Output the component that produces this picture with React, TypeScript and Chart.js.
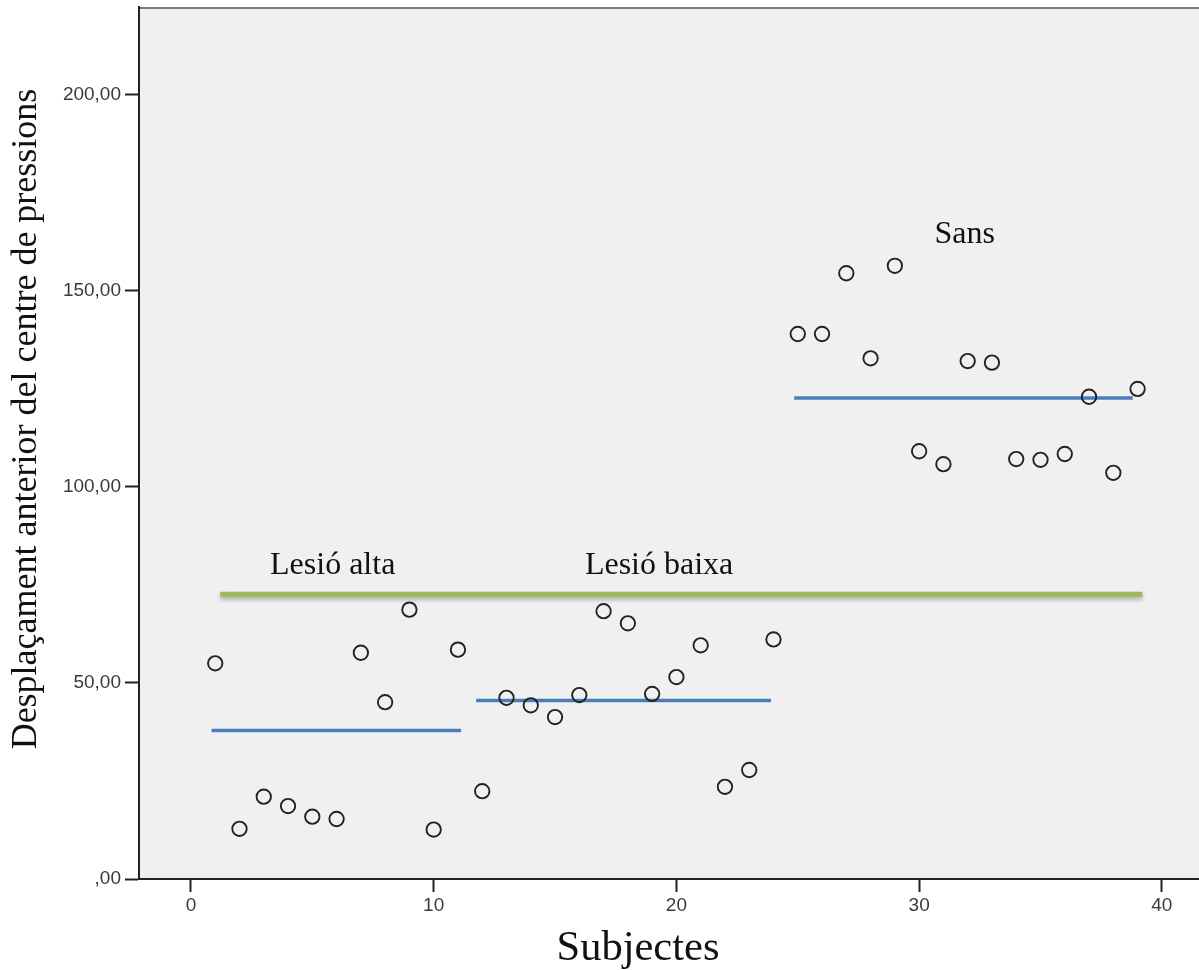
import React, { useEffect, useRef } from "react";
import { Chart, registerables } from "chart.js";

Chart.register(...registerables);

// ---- Data ----
const subjects = [
  1, 2, 3, 4, 5, 6, 7, 8, 9, 10, 11, 12, 13, 14, 15, 16, 17, 18, 19, 20,
  21, 22, 23, 24, 25, 26, 27, 28, 29, 30, 31, 32, 33, 34, 35, 36, 37, 38, 39,
];
const displacement = [
  55.0, 12.8, 21.0, 18.6, 15.9, 15.3, 57.7, 45.1, 68.7, 12.6, 58.5,
  22.4, 46.2, 44.3, 41.3, 46.9, 68.3, 65.2, 47.2, 51.5, 59.6, 23.5, 27.8, 61.1,
  139.0, 139.0, 154.5, 132.8, 156.4, 109.1, 105.8, 132.1, 131.7, 107.1, 106.9, 108.4, 123.0, 103.6, 125.0,
];

// group mean lines (start subject, end subject, mean value)
const groupLineStart = [0.85, 11.75, 24.85];
const groupLineEnd = [11.13, 23.9, 38.8];
const groupMeans = [37.9, 45.5, 122.7];

// overall mean line
const overallLineStart = [1.2];
const overallLineEnd = [39.2];
const overallMean = [72.6];

// group labels (left x in subject units, baseline in value units)
const labelTexts = ["Lesió alta", "Lesió baixa", "Sans"];
const labelX = [3.26, 16.23, 30.63];
const labelY = [77.7, 77.7, 162.1];

const xTitle = "Subjectes";
const yTitle = "Desplaçament anterior del centre de pressions";

const formatY = (v: number) => (v === 0 ? ",00" : v.toFixed(2).replace(".", ","));

const bgPlugin = {
  id: "bgFrame",
  beforeDraw(chart: any) {
    const { ctx, chartArea } = chart;
    const { left, top, right, bottom } = chartArea;
    ctx.save();
    ctx.fillStyle = "#f0f0f0";
    ctx.fillRect(left, top, right - left, bottom - top);
    ctx.strokeStyle = "#7a7a7a";
    ctx.lineWidth = 2;
    ctx.beginPath();
    ctx.moveTo(left, top + 1);
    ctx.lineTo(right, top + 1);
    ctx.stroke();
    ctx.restore();
  },
};

const shadowPlugin = {
  id: "lineShadow",
  beforeDatasetDraw(chart: any, args: any) {
    const ds = chart.data.datasets[args.index];
    if (ds.shadow) {
      const ctx = chart.ctx;
      ctx.save();
      ctx.shadowColor = "rgba(0,0,0,0.28)";
      ctx.shadowBlur = 4;
      ctx.shadowOffsetY = 3;
    }
  },
  afterDatasetDraw(chart: any, args: any) {
    const ds = chart.data.datasets[args.index];
    if (ds.shadow) chart.ctx.restore();
  },
};

const labelPlugin = {
  id: "groupLabels",
  afterDatasetsDraw(chart: any) {
    const { ctx, scales, chartArea } = chart;
    ctx.save();
    ctx.font = '32px "Liberation Serif", serif';
    ctx.fillStyle = "#111";
    ctx.textAlign = "left";
    ctx.textBaseline = "alphabetic";
    labelTexts.forEach((t, i) => {
      ctx.fillText(t, scales.x.getPixelForValue(labelX[i]), scales.y.getPixelForValue(labelY[i]));
    });
    // axis titles
    ctx.textAlign = "center";
    ctx.font = '42.5px "Liberation Serif", serif';
    ctx.fillText(xTitle, chartArea.left + 499, chartArea.bottom + 81);
    ctx.save();
    ctx.translate(36, chartArea.top + 412);
    ctx.rotate(-Math.PI / 2);
    ctx.font = '36px "Liberation Serif", serif';
    ctx.fillText(yTitle, 0, 0);
    ctx.restore();
    ctx.restore();
  },
};

export default function App() {
  const ref = useRef<HTMLCanvasElement | null>(null);

  useEffect(() => {
    if (!ref.current) return;
    const groupDatasets = groupMeans.map((m, i) => ({
      type: "line" as const,
      data: [
        { x: groupLineStart[i], y: m },
        { x: groupLineEnd[i], y: m },
      ],
      borderColor: "#4a7ebb",
      borderWidth: 3.5,
      pointRadius: 0,
      showLine: true,
      order: 2,
      borderCapStyle: "butt",
    }));
    const overallDatasets = overallMean.map((m, i) => ({
      type: "line" as const,
      data: [
        { x: overallLineStart[i], y: m },
        { x: overallLineEnd[i], y: m },
      ],
      borderColor: "#9bbb59",
      borderWidth: 5,
      pointRadius: 0,
      showLine: true,
      order: 3,
      shadow: true,
    }));

    const chart = new Chart(ref.current, {
      type: "scatter",
      data: {
        datasets: [
          {
            data: subjects.map((s, i) => ({ x: s, y: displacement[i] })),
            pointRadius: 7.2,
            pointBorderWidth: 1.9,
            borderColor: "#222",
            backgroundColor: "rgba(0,0,0,0)",
            pointBackgroundColor: "rgba(0,0,0,0)",
            pointBorderColor: "#222",
            order: 0,
          } as any,
          ...(groupDatasets as any[]),
          ...(overallDatasets as any[]),
        ],
      },
      options: {
        responsive: false,
        animation: false,
        devicePixelRatio: 1,
        layout: { autoPadding: false, padding: { top: 7, left: 0, right: 0, bottom: 0 } },
        plugins: {
          legend: { display: false },
          tooltip: { enabled: false },
        },
        scales: {
          x: {
            type: "linear",
            min: -2.14,
            max: 41.53,
            afterFit: (s: any) => {
              s.height = 91;
              s.paddingLeft = 0;
              s.paddingRight = 0;
            },
            ticks: {
              stepSize: 10,
              includeBounds: false,
              color: "#3a3a3a",
              font: { family: '"Liberation Sans", Arial, sans-serif', size: 19 },
              padding: 2,
              maxRotation: 0,
            },
            grid: {
              drawOnChartArea: false,
              drawTicks: true,
              tickLength: 13,
              tickColor: "#222",
              tickWidth: 2,
            },
            border: { display: true, color: "#222", width: 2 },
            title: { display: false },
          },
          y: {
            type: "linear",
            min: 0,
            max: 222.4,
            afterFit: (s: any) => {
              s.width = 139;
              s.paddingTop = 0;
              s.paddingBottom = 0;
            },
            ticks: {
              stepSize: 50,
              includeBounds: false,
              color: "#3a3a3a",
              font: { family: '"Liberation Sans", Arial, sans-serif', size: 19 },
              padding: 4,
              callback: (v: any) => formatY(Number(v)),
            },
            grid: {
              drawOnChartArea: false,
              drawTicks: true,
              tickLength: 14,
              tickColor: "#222",
              tickWidth: 2,
            },
            border: { display: true, color: "#222", width: 2 },
            title: { display: false },
          },
        },
      },
      plugins: [bgPlugin, shadowPlugin, labelPlugin],
    } as any);

    return () => chart.destroy();
  }, []);

  return (
    <div style={{ position: "absolute", left: 0, top: 0, width: 1199, height: 970, background: "#fff" }}>
      <canvas ref={ref} width={1199} height={970} style={{ display: "block" }} />
    </div>
  );
}
